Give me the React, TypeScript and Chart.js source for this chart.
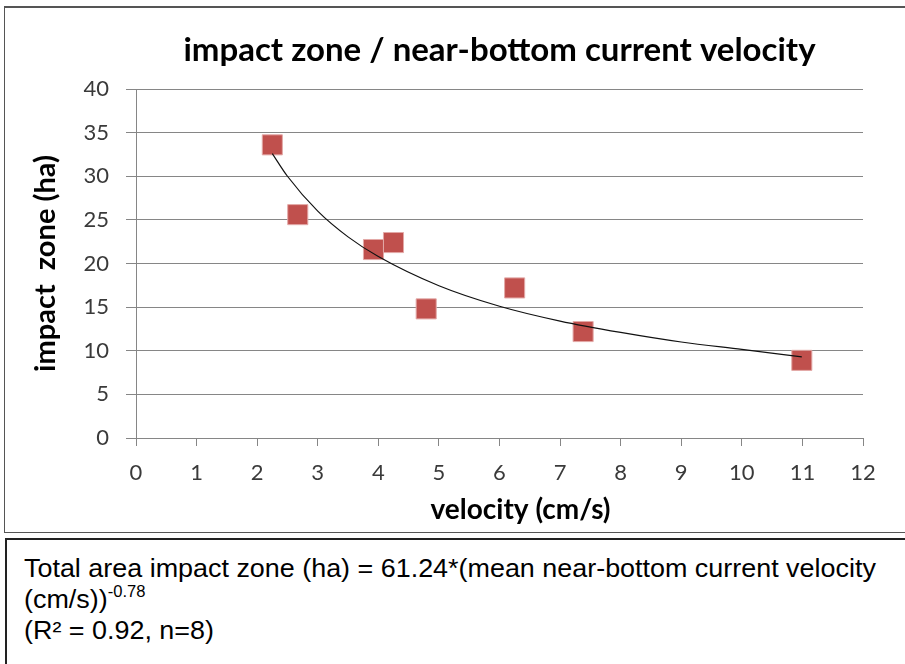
import React, { useEffect, useRef } from "react";
import { Chart, registerables } from "chart.js";

Chart.register(...registerables);

// Observed points (velocity cm/s, impact zone ha)
const velocity = [2.25, 2.67, 3.92, 4.25, 4.79, 6.25, 7.38, 10.99];
const impactZone = [33.6, 25.6, 21.6, 22.4, 14.8, 17.2, 12.2, 8.9];

// Power trendline
const trendVelocity = [2.25, 2.5, 3, 3.5, 4, 5, 6, 7, 8, 9, 10, 10.99];
const trendImpact = [32.6, 30.0, 26.0, 23.05, 20.8, 17.45, 15.1, 13.4, 12.1, 11.0, 10.15, 9.3];

const xTickValues = [0, 1, 2, 3, 4, 5, 6, 7, 8, 9, 10, 11, 12];
const yTickValues = [0, 5, 10, 15, 20, 25, 30, 35, 40];

const chartTitle = "impact zone / near-bottom current velocity";
const xTitle = "\u2003\u2003velocity (cm/s)";
const yTitle = "impact  zone (ha)";

const GRID = "#868686";
const TICK_COLOR = "#3a3a3a";
const FONT = "Lato";

export default function App() {
  const canvasRef = useRef<HTMLCanvasElement | null>(null);

  useEffect(() => {
    const canvas = canvasRef.current;
    if (!canvas) return;
    const chart = new Chart(canvas, {
      type: "scatter",
      data: {
        datasets: [
          {
            type: "line",
            label: "trend",
            data: trendVelocity.map((x, i) => ({ x, y: trendImpact[i] })),
            borderColor: "#111",
            borderWidth: 1.2,
            pointRadius: 0,
            cubicInterpolationMode: "monotone",
            fill: false,
            order: 0,
          } as any,
          {
            type: "scatter",
            label: "impact zone",
            data: velocity.map((x, i) => ({ x, y: impactZone[i] })),
            pointStyle: "rect",
            pointRadius: 14.2,
            pointHoverRadius: 14.2,
            backgroundColor: "#C0504D",
            borderColor: "#E3A9A7",
            borderWidth: 1,
            order: 1,
          },
        ],
      },
      options: {
        animation: false,
        responsive: false,
        devicePixelRatio: 1,
        layout: { padding: { left: 0, right: 42, top: 0, bottom: 6 } },
        plugins: {
          legend: { display: false },
          tooltip: { enabled: false },
          title: {
            display: true,
            fullSize: false,
            text: chartTitle,
            color: "#000",
            font: { family: FONT, weight: "bold", size: 33 },
            padding: { top: 31, bottom: 18.4 },
          },
        },
        scales: {
          x: {
            type: "linear",
            min: 0,
            max: 12,
            afterBuildTicks: (scale: any) => {
              scale.ticks = xTickValues.map((v) => ({ value: v }));
            },
            afterFit: (scale: any) => {
              scale.height = 89;
            },
            grid: {
              display: true,
              drawOnChartArea: false,
              drawTicks: true,
              tickLength: 8,
              color: GRID,
              lineWidth: 1,
            },
            border: { display: true, color: GRID, width: 1 },
            ticks: {
              color: TICK_COLOR,
              font: { family: FONT, size: 22 },
              padding: 14,
              maxRotation: 0,
              autoSkip: false,
            },
            title: {
              display: true,
              text: xTitle,
              color: "#000",
              font: { family: FONT, weight: "bold", size: 28 },
              padding: { top: 0, bottom: 0 },
            },
          },
          y: {
            type: "linear",
            min: 0,
            max: 40,
            afterBuildTicks: (scale: any) => {
              scale.ticks = yTickValues.map((v) => ({ value: v }));
            },
            afterFit: (scale: any) => {
              scale.width = 136;
            },
            grid: {
              display: true,
              drawOnChartArea: true,
              drawTicks: true,
              tickLength: 10,
              color: GRID,
              lineWidth: 1,
            },
            border: { display: true, color: GRID, width: 1 },
            ticks: {
              color: TICK_COLOR,
              font: { family: FONT, size: 22 },
              padding: 17,
              autoSkip: false,
            },
            title: {
              display: true,
              text: yTitle,
              color: "#000",
              font: { family: FONT, weight: "bold", size: 29 },
              padding: { top: 28.6, bottom: 0 },
            },
          },
        },
      },
    } as any);
    return () => chart.destroy();
  }, []);

  return (
    <div
      style={{
        position: "absolute",
        left: 0,
        top: 0,
        width: 905,
        height: 664,
        overflow: "hidden",
        background: "#fff",
      }}
    >
      <div
        style={{
          position: "absolute",
          left: 4,
          top: 6,
          width: 940,
          height: 527,
          boxSizing: "border-box",
          borderTop: "2px solid #555",
          borderLeft: "1px solid #555",
          borderBottom: "1px solid #555",
        }}
      />
      <canvas
        ref={canvasRef}
        width={905}
        height={533}
        style={{ position: "absolute", left: 0, top: 0, width: 905, height: 533 }}
      />
      <div
        style={{
          position: "absolute",
          left: 5,
          top: 538,
          width: 940,
          height: 160,
          boxSizing: "border-box",
          borderTop: "2px solid #222",
          borderLeft: "2px solid #222",
        }}
      >
        <div
          style={{
            position: "absolute",
            left: 17,
            top: 12.5,
            fontFamily: '"Liberation Sans", Arial, sans-serif',
            fontSize: 26,
            lineHeight: "31px",
            color: "#000",
            whiteSpace: "nowrap",
            transform: "scaleX(1.035)",
            transformOrigin: "left top",
          }}
        >
          Total area impact zone (ha) = 61.24*(mean near-bottom current velocity
          <br />
          (cm/s))
          <span style={{ fontSize: 16, position: "relative", top: -11, lineHeight: 0 }}>-0.78</span>
          <br />
          (R² = 0.92, n=8)
        </div>
      </div>
    </div>
  );
}
